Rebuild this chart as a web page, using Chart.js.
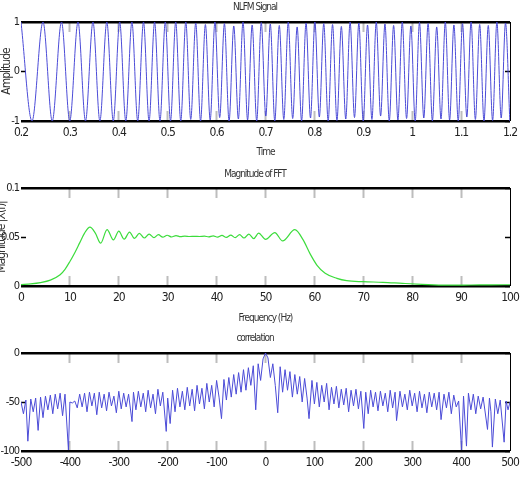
<!DOCTYPE html>
<html>
<head>
<meta charset="utf-8">
<script src="https://cdn.jsdelivr.net/npm/chart.js@4.4.0/dist/chart.umd.min.js"></script>
<style>
  html, body { margin: 0; padding: 0; background: #fff; }
  #wrap { position: relative; width: 527px; height: 480px; overflow: hidden; }
  canvas { position: absolute; left: 0; }
</style>
</head>
<body>
<div id="wrap">
  <canvas id="c1" width="527" height="160" style="top:0px"></canvas>
  <canvas id="c2" width="527" height="165" style="top:160px"></canvas>
  <canvas id="c3" width="527" height="155" style="top:325px"></canvas>
</div>
<script>
// ---------- Panel 1: NLFM signal (extrema) ----------
const sigTime = [0.2000, 0.2225, 0.2450, 0.2639, 0.2828, 0.2997, 0.3166, 0.3319, 0.3472, 0.3613,
  0.3755, 0.3887, 0.4018, 0.4143, 0.4268, 0.4387, 0.4505, 0.4619, 0.4732, 0.4842,
  0.4951, 0.5057, 0.5164, 0.5267, 0.5370, 0.5471, 0.5573, 0.5672, 0.5771, 0.5869,
  0.5966, 0.6063, 0.6160, 0.6255, 0.6351, 0.6445, 0.6540, 0.6634, 0.6727, 0.6820,
  0.6913, 0.7006, 0.7098, 0.7190, 0.7282, 0.7374, 0.7465, 0.7556, 0.7647, 0.7738,
  0.7829, 0.7920, 0.8010, 0.8101, 0.8191, 0.8281, 0.8371, 0.8461, 0.8551, 0.8641,
  0.8730, 0.8820, 0.8909, 0.8998, 0.9087, 0.9176, 0.9265, 0.9354, 0.9443, 0.9531,
  0.9620, 0.9708, 0.9797, 0.9885, 0.9973, 1.0061, 1.0149, 1.0237, 1.0325, 1.0413,
  1.0501, 1.0589, 1.0677, 1.0765, 1.0853, 1.0941, 1.1029, 1.1117, 1.1204, 1.1292,
  1.1380, 1.1468, 1.1556, 1.1644, 1.1732, 1.1820, 1.1908, 1.1996];
const sigAmp = [1,-1,1,-1,1,-1,1,-1,1,-1,1,-1,1,-1,1,-1,1,-1,1,-1,1,-1,1,-1,1,
  -0.97,0.98,-1,0.95,-0.98,1,-0.93,0.97,-1,0.92,-0.96,1,-0.98,0.94,-1,0.99,-0.9,0.96,-1,
  0.93,-0.97,1,-0.95,0.9,-1,0.98,-0.94,1,-0.92,0.97,-1,0.95,-0.99,0.91,-0.96,1,-0.93,
  0.98,-1,0.94,-0.97,1,-0.9,0.96,-1,0.93,-0.98,1,-0.95,0.92,-1,0.99,-0.94,0.97,-1,0.9,
  -0.96,1,-0.98,0.94,-1,0.97,-0.92,1,-0.97,0.95,-1,0.93,-0.99,1,-0.94,0.98,-1];
const timeTicks = [0.2, 0.3, 0.4, 0.5, 0.6, 0.7, 0.8, 0.9, 1.0, 1.1, 1.2];
const timeTickLabels = ['0.2','0.3','0.4','0.5','0.6','0.7','0.8','0.9','1','1.1','1.2'];
const ampTicks = [-1, 0, 1];
const ampTickLabels = ['-1', '0', '1'];

// ---------- Panel 2: Magnitude of FFT ----------
const fftFreq = [0, 2, 4, 6, 8, 9, 10, 11, 12, 13, 14.1, 15.2, 16.3, 17.6, 18.9, 20.0, 21.1, 22.2,
  23.2, 24.2, 25.2, 26.2, 27.2, 28.1, 29.0, 29.9, 30.8, 31.7, 32.6, 33.5, 34.5, 35.5, 36.5,
  37.5, 38.4, 39.3, 40.2, 41.1, 42.0, 42.9, 43.8, 44.7, 45.6, 46.6, 47.6, 48.6, 50.0, 51.9,
  53.5, 56.0, 57.7, 59.1, 60.5, 62.2, 64.6, 66.6, 70, 74, 78, 82, 87, 92, 96, 100];
const fftMag = [0.0015, 0.0022, 0.0035, 0.0060, 0.0115, 0.0170, 0.0250, 0.0340, 0.0440, 0.0540,
  0.0600, 0.0540, 0.0437, 0.0575, 0.0470, 0.0560, 0.0478, 0.0550, 0.0485, 0.0538, 0.0490,
  0.0530, 0.0494, 0.0524, 0.0498, 0.0518, 0.0500, 0.0514, 0.0503, 0.0509, 0.0505, 0.0506,
  0.0505, 0.0508, 0.0502, 0.0512, 0.0499, 0.0516, 0.0496, 0.0520, 0.0493, 0.0524, 0.0490,
  0.0530, 0.0484, 0.0540, 0.0476, 0.0545, 0.0460, 0.0575, 0.0470, 0.0330, 0.0214, 0.0130,
  0.0078, 0.0054, 0.0044, 0.0038, 0.0027, 0.0017, 0.0008, 0.0010, 0.0012, 0.0013];
const freqTicks = [0, 10, 20, 30, 40, 50, 60, 70, 80, 90, 100];
const freqTickLabels = ['0','10','20','30','40','50','60','70','80','90','100'];
const magTicks = [0, 0.05, 0.1];
const magTickLabels = ['0', '0.05', '0.1'];

// ---------- Panel 3: correlation (dB) ----------
const corrLag = [-500,-495,-490,-486,-480,-475,-470,-465,-460,-455,-450,-445,-440,-435,-430,-425,-420,-415,-410,-403,
  -400,-395,-390,-385,-380,-375,-370,-365,-360,-355,-350,-345,-340,-335,-330,-325,-320,-315,-310,-305,
  -300,-295,-290,-285,-280,-273,-270,-265,-260,-255,-250,-245,-240,-235,-230,-225,-220,-215,-210,-203,
  -200,-195,-190,-185,-180,-175,-170,-165,-160,-155,-150,-145,-140,-135,-130,-125,-120,-115,-110,-105,
  -100,-95,-90,-85,-80,-75,-70,-65,-60,-55,-50,-45,-40,-35,-30,-25,-20,-15,-10,-5,
  0,
  5,10,15,20,25,30,35,40,45,50,55,60,65,70,75,80,85,89,95,100,
  105,110,115,120,125,130,135,140,145,150,155,160,165,170,175,180,185,190,195,201,
  205,210,215,220,225,230,235,240,245,250,255,260,265,268,275,280,285,290,295,300,
  305,310,315,320,325,330,335,340,345,350,355,359,365,370,375,380,385,390,395,401,
  405,411,415,420,425,430,435,440,445,454,458,461,464,470,475,480,488,492,496,500];
const corrDb = [-50,-62,-48,-90,-47,-60,-46,-79,-45,-66,-44,-58,-43,-62,-42,-57,-41,-64,-42,-99,
  -50,-51,-49,-56,-42,-55,-41,-60,-40,-54,-41,-63,-40,-56,-42,-59,-40,-54,-44,-61,
  -39,-57,-41,-55,-42,-70,-40,-58,-39,-55,-41,-60,-38,-56,-42,-62,-37,-54,-40,-80,
  -46,-72,-38,-60,-36,-55,-39,-58,-35,-54,-37,-59,-33,-52,-36,-57,-31,-50,-33,-55,
  -28,-45,-67,-27,-48,-25,-45,-22,-42,-20,-40,-17,-38,-15,-33,-13,-58,-11,-28,-6,
  0,
  -5,-25,-11,-33,-61,-14,-40,-17,-38,-19,-45,-22,-42,-24,-50,-26,-46,-67,-28,-52,
  -30,-55,-33,-50,-31,-58,-35,-52,-34,-56,-37,-53,-36,-60,-38,-54,-37,-57,-39,-77,
  -40,-62,-38,-55,-40,-59,-39,-54,-41,-60,-38,-56,-40,-69,-39,-55,-42,-58,-38,-54,
  -41,-60,-39,-56,-42,-61,-40,-55,-41,-58,-40,-68,-42,-56,-40,-62,-43,-55,-49,-99,
  -44,-95,-41,-58,-42,-62,-44,-57,-45,-78,-46,-60,-96,-47,-62,-48,-91,-49,-58,-50];
const lagTicks = [-500,-400,-300,-200,-100,0,100,200,300,400,500];
const lagTickLabels = ['-500','-400','-300','-200','-100','0','100','200','300','400','500'];
const dbTicks = [-100, -50, 0];
const dbTickLabels = ['-100', '-50', '0'];

// ---------- drawing ----------
const FONT = "'DejaVu Sans Condensed','Liberation Sans',sans-serif";
const CLEAR = 'rgba(0,0,0,0)';
const narrowText = { id: 'narrowText', beforeDraw(chart) { chart.ctx.letterSpacing = '-1px'; } };

function panel(id, o) {
  const near = (a, b) => Math.abs(a - b) < 1e-9;
  const isEdgeX = c => c.tick && (near(c.tick.value, o.xmin) || near(c.tick.value, o.xmax));
  const isEdgeY = c => c.tick && (near(c.tick.value, o.ymin) || near(c.tick.value, o.ymax));
  const xTickFn = s => { s.ticks = o.xTicks.map(v => ({ value: v })); };
  const yTickFn = s => { s.ticks = o.yTicks.map(v => ({ value: v })); };
  const tickMarksX = pos => ({
    type: 'linear', position: pos, weight: 0, min: o.xmin, max: o.xmax,
    afterBuildTicks: xTickFn,
    afterFit: s => { s.height = 0; },
    ticks: { display: false },
    border: { display: false },
    grid: {
      drawOnChartArea: false, tickLength: -10, tickWidth: 2,
      tickColor: c => isEdgeX(c) ? CLEAR : '#bdbdbd'
    }
  });
  new Chart(document.getElementById(id), {
    type: 'line',
    data: {
      datasets: [{
        data: o.xs.map((x, i) => ({ x: x, y: o.ys[i] })),
        borderColor: o.color,
        borderWidth: o.lw,
        pointRadius: 0,
        fill: false,
        tension: 0,
        cubicInterpolationMode: o.mono ? 'monotone' : 'default'
      }]
    },
    plugins: [narrowText],
    options: {
      responsive: false,
      animation: false,
      events: [],
      layout: { padding: { left: 0, right: 17, top: 0, bottom: 0 } },
      plugins: {
        legend: { display: false },
        tooltip: { enabled: false },
        title: {
          display: true, text: o.title, color: '#333',
          font: { family: FONT, size: 10, weight: 'normal' },
          padding: { top: o.tTop, bottom: o.tBot }
        }
      },
      scales: {
        x: {
          type: 'linear', position: 'bottom', weight: 1, min: o.xmin, max: o.xmax,
          afterBuildTicks: xTickFn,
          afterFit: s => { s.height = o.xH; },
          ticks: {
            callback: (v, i) => o.xLabels[i], color: '#222', autoSkip: false, maxRotation: 0,
            font: { family: FONT, size: 12 }, padding: 5
          },
          border: { display: false },
          grid: {
            color: c => (c.tick && near(c.tick.value, o.xmax)) ? '#000' : CLEAR,
            lineWidth: 1, drawTicks: false
          },
          title: o.xTitle ? {
            display: true, text: o.xTitle, color: '#333',
            font: { family: FONT, size: 10 }, padding: { top: 0, bottom: o.xTitlePad }
          } : { display: false }
        },
        xb: tickMarksX('bottom'),
        xt: tickMarksX('top'),
        y: {
          type: 'linear', position: 'left', min: o.ymin, max: o.ymax,
          afterBuildTicks: yTickFn,
          afterFit: s => { s.width = 21; },
          ticks: {
            callback: (v, i) => o.yLabels[i], color: '#222',
            font: { family: FONT, size: 11 }, padding: 7
          },
          border: { display: false },
          grid: {
            color: c => isEdgeY(c) ? '#000' : CLEAR,
            lineWidth: c => isEdgeY(c) ? 2.5 : 1,
            tickLength: -5, tickWidth: 1.5, tickColor: '#000'
          },
          title: o.yTitle ? {
            display: true, text: o.yTitle, color: '#333',
            font: { family: FONT, size: 12 }, padding: { top: o.yTitlePad, bottom: 0 }
          } : { display: false }
        },
        y2: {
          type: 'linear', position: 'right', min: o.ymin, max: o.ymax,
          afterBuildTicks: yTickFn,
          afterFit: s => { s.width = 0; },
          ticks: { display: false },
          border: { display: false },
          grid: { drawOnChartArea: false, tickLength: -5, tickWidth: 1.5, tickColor: '#000' }
        }
      }
    }
  });
}

panel('c1', {
  xs: sigTime, ys: sigAmp, color: 'rgb(75,75,215)', lw: 1, mono: true,
  title: 'NLFM Signal', tTop: 1, tBot: 9,
  xmin: 0.2, xmax: 1.2, xTicks: timeTicks, xLabels: timeTickLabels, xH: 39,
  xTitle: 'Time', xTitlePad: 2,
  ymin: -1, ymax: 1, yTicks: ampTicks, yLabels: ampTickLabels,
  yTitle: 'Amplitude', yTitlePad: 0
});
panel('c2', {
  xs: fftFreq, ys: fftMag, color: 'rgb(60,220,60)', lw: 1.2, mono: true,
  title: 'Magnitude of FFT', tTop: 8, tBot: 8,
  xmin: 0, xmax: 100, xTicks: freqTicks, xLabels: freqTickLabels, xH: 39,
  xTitle: 'Frequency (Hz)', xTitlePad: 1,
  ymin: 0, ymax: 0.1, yTicks: magTicks, yLabels: magTickLabels,
  yTitle: 'Magnitude |X(f)|', yTitlePad: -5
});
panel('c3', {
  xs: corrLag, ys: corrDb, color: 'rgb(75,75,215)', lw: 1, mono: false,
  title: 'correlation', tTop: 7.5, tBot: 8.5,
  xmin: -500, xmax: 500, xTicks: lagTicks, xLabels: lagTickLabels, xH: 29,
  xTitle: null,
  ymin: -100, ymax: 0, yTicks: dbTicks, yLabels: dbTickLabels,
  yTitle: null
});
</script>
</body>
</html>
